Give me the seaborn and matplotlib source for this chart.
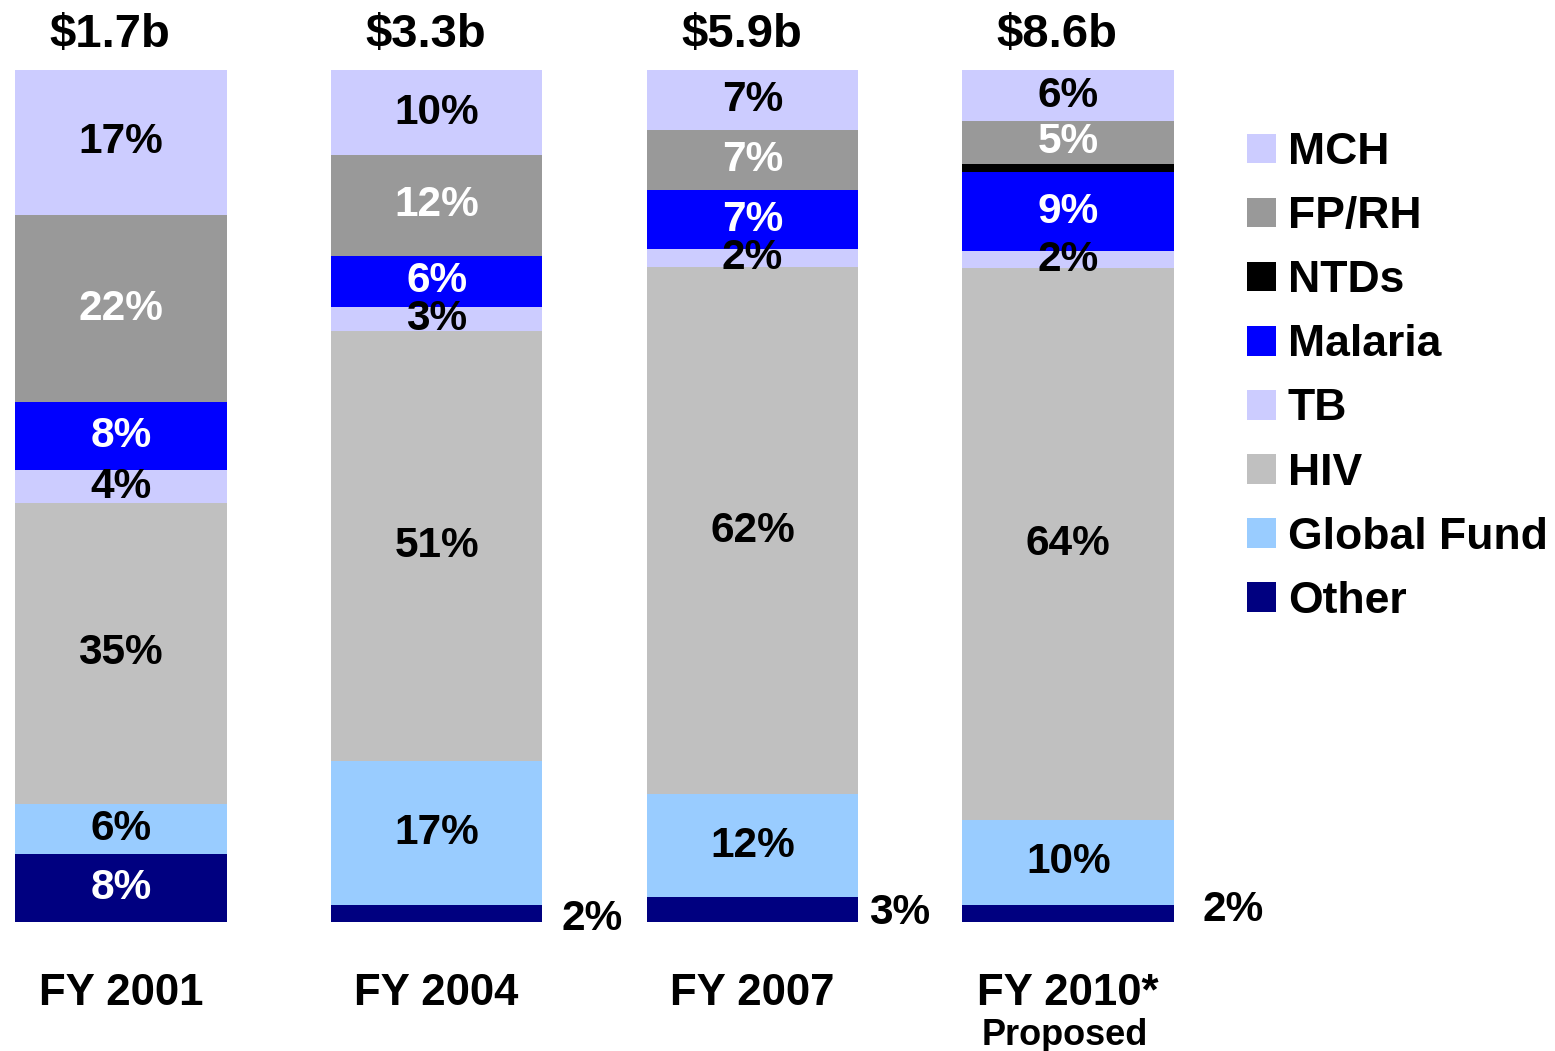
import numpy as np
import pandas as pd
import seaborn as sns
import matplotlib.pyplot as plt
from matplotlib.patches import Patch

# data (percent of total, bottom to top of each bar)
years = ['FY 2001', 'FY 2004', 'FY 2007', 'FY 2010*']
totals = ['$1.7b', '$3.3b', '$5.9b', '$8.6b']
segments = ['Other', 'Global Fund', 'HIV', 'TB', 'Malaria', 'NTDs', 'FP/RH', 'MCH']
other = [8.0, 2.0, 2.9, 2.0]
global_fund = [5.9, 16.9, 12.1, 10.0]
hiv = [35.3, 50.5, 61.9, 64.8]
tb = [3.8, 2.8, 2.1, 1.9]
malaria = [8.0, 6.0, 6.9, 9.3]
ntds = [0.0, 0.0, 0.0, 1.0]
fp_rh = [22.0, 11.8, 7.0, 5.0]
mch = [17.0, 10.0, 7.1, 6.0]
labels = {
    'Other': ['8%', '2%', '3%', '2%'],
    'Global Fund': ['6%', '17%', '12%', '10%'],
    'HIV': ['35%', '51%', '62%', '64%'],
    'TB': ['4%', '3%', '2%', '2%'],
    'Malaria': ['8%', '6%', '7%', '9%'],
    'NTDs': ['', '', '', ''],
    'FP/RH': ['22%', '12%', '7%', '5%'],
    'MCH': ['17%', '10%', '7%', '6%'],
}

colors = {'Other': '#000080', 'Global Fund': '#99CCFF', 'HIV': '#C0C0C0', 'TB': '#CCCCFF',
          'Malaria': '#0000FF', 'NTDs': '#000000', 'FP/RH': '#999999', 'MCH': '#CCCCFF'}
text_colors = {'Other': 'white', 'Global Fund': 'black', 'HIV': 'black', 'TB': 'black',
               'Malaria': 'white', 'NTDs': 'white', 'FP/RH': 'white', 'MCH': 'black'}

df = pd.DataFrame({'Other': other, 'Global Fund': global_fund, 'HIV': hiv, 'TB': tb,
                   'Malaria': malaria, 'NTDs': ntds, 'FP/RH': fp_rh, 'MCH': mch}, index=years)
cum = df.cumsum(axis=1)

sns.set_style('white')
plt.rcParams['font.family'] = ['Liberation Sans', 'DejaVu Sans']
plt.rcParams['font.weight'] = 'bold'
plt.rcParams['text.color'] = 'black'

fig = plt.figure(figsize=(15.55, 10.51), dpi=100)
ax = fig.add_axes([15 / 1555, 129 / 1051, 1159 / 1555, 852 / 1051])

W = 0.67
# draw cumulative bars from the top segment down so each one covers the rest
for seg in segments[::-1]:
    sns.barplot(x=years, y=cum[seg].values, color=colors[seg], width=W,
                saturation=1, ax=ax, linewidth=0)

FS = 30.5
# nudges for the small "Other" labels sitting right of the bars
side_dx = [0.06, 0.06, 0.035, 0.089]
side_y = [4.0, 0.4, 1.0, 1.4]
for i, yr in enumerate(years):
    for seg in segments:
        lab = labels[seg][i]
        if not lab:
            continue
        top = cum.loc[yr, seg]
        val = df.loc[yr, seg]
        if seg == 'Other' and val < 4:
            ax.text(i + W / 2 + side_dx[i], side_y[i], lab, ha='left', va='center',
                    fontsize=FS, fontweight='bold', color='black', clip_on=False)
        else:
            ax.text(i, top - val / 2, lab, ha='center', va='center',
                    fontsize=FS, fontweight='bold', color=text_colors[seg])
    ax.text(i - 0.035, 104.1, totals[i], ha='center', va='center', fontsize=34,
            fontweight='bold', clip_on=False)
    ax.text(i, -8.4, yr, ha='center', va='center', fontsize=31.5,
            fontweight='bold', clip_on=False)
ax.text(3 - 0.012, -13.3, 'Proposed', ha='center', va='center', fontsize=26,
        fontweight='bold', clip_on=False)

ax.set_xlim(-0.335, 3.335)
ax.set_ylim(0, 100)
ax.set_xticks([])
ax.set_yticks([])
ax.set_xlabel('')
ax.set_ylabel('')
sns.despine(left=True, bottom=True)

LFS = 32
handles = [Patch(facecolor=colors[s], edgecolor='none', label=s) for s in segments[::-1]]
ax.legend(handles=handles, loc='upper left', bbox_to_anchor=(1247 / 1555, 1 - 132 / 1051),
          bbox_transform=fig.transFigure, frameon=False,
          handlelength=0.65, handleheight=0.65, handletextpad=0.27,
          labelspacing=0.52, borderpad=0, borderaxespad=0,
          prop={'weight': 'bold', 'size': LFS})

fig.savefig('out.png', dpi=100)
